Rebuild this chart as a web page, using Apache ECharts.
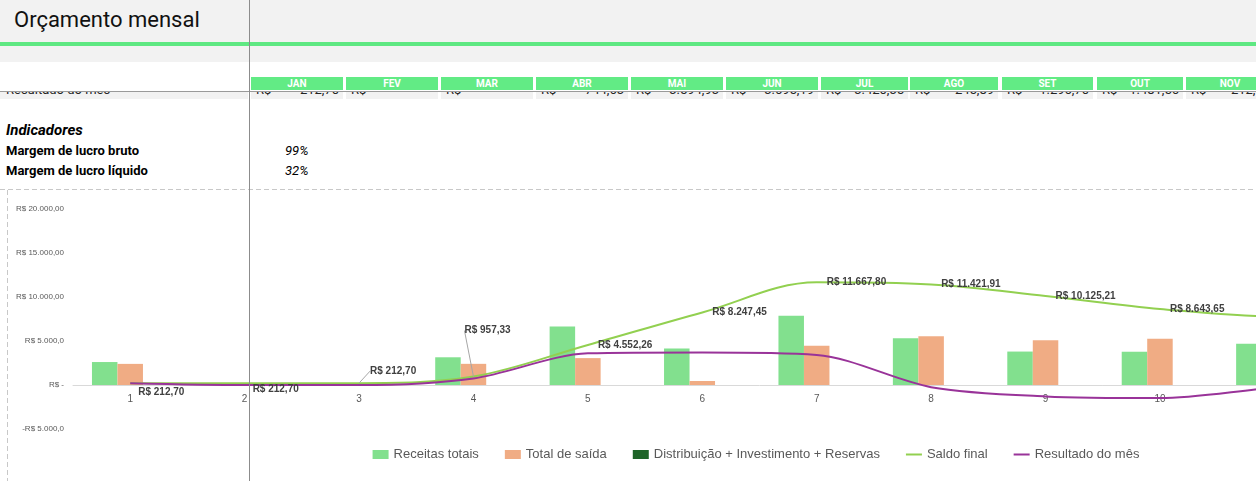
<!DOCTYPE html>
<html><head><meta charset="utf-8">
<script src="https://cdn.jsdelivr.net/npm/echarts@6/dist/echarts.min.js"></script>
<style>
html,body{margin:0;padding:0;width:1256px;height:481px;overflow:hidden;background:#fff;font-family:Roboto,"Liberation Sans",sans-serif;}
.abs{position:absolute;}
.cell{position:absolute;top:77px;height:13px;background:#62eb85;color:#fff;font-weight:bold;font-size:10px;line-height:13px;text-align:center;}
.rowcell{position:absolute;top:0;height:7px;background:#f2f2f2;}
.rt{position:absolute;top:-10px;font-size:13px;line-height:15px;color:#222;white-space:nowrap;}
.lbl{position:absolute;left:6px;color:#000;white-space:nowrap;}
</style></head><body>
<div class="abs" style="left:0;top:0;width:1256px;height:42px;background:#f2f2f2"></div>
<div class="abs" style="left:14px;top:6px;font-size:22px;line-height:28px;color:#111">Orçamento mensal</div>
<div class="abs" style="left:0;top:42px;width:1256px;height:4px;background:#5ee882"></div>
<div class="abs" style="left:0;top:46px;width:1256px;height:16px;background:#f2f2f2"></div>
<div id="months"></div>
<div id="row" class="abs" style="left:0;top:92px;width:1256px;height:7px;overflow:hidden"></div>
<div class="abs" style="left:0;top:91px;width:1256px;height:1px;background:#9a9a9a;z-index:5"></div>
<div class="lbl" style="top:121px;font-size:15px;font-weight:bold;font-style:italic;line-height:18px">Indicadores</div>
<div class="lbl" style="top:143px;font-size:13px;font-weight:bold;line-height:16px">Margem de lucro bruto</div>
<div class="lbl" style="top:163px;font-size:13px;font-weight:bold;line-height:16px">Margem de lucro líquido</div>
<div class="abs" style="left:285px;top:143px;font-size:13px;font-style:italic;line-height:16px">99%</div>
<div class="abs" style="left:285px;top:163px;font-size:13px;font-style:italic;line-height:16px">32%</div>
<svg class="abs" style="left:0;top:0;z-index:1" width="1256" height="481">
  <line x1="0" y1="189.5" x2="1256" y2="189.5" stroke="#c8c8c8" stroke-width="1" stroke-dasharray="5,3"/>
  <line x1="7.5" y1="190" x2="7.5" y2="481" stroke="#c8c8c8" stroke-width="1" stroke-dasharray="5,3"/>
</svg>
<div id="chart" class="abs" style="left:8px;top:190px;width:1496px;height:291px;z-index:2"></div>
<div class="abs" style="left:249px;top:0;width:1px;height:481px;background:#8c8c8c;z-index:6"></div>
<script>
// ---- data ----
const meses = ['JAN','FEV','MAR','ABR','MAI','JUN','JUL','AGO','SET','OUT','NOV','DEZ'];
const resultadoTexto = ['212,70','-','-','744,63','3.594,93','3.695,19','3.420,35','245,89','1.296,70','1.481,56','212,70','-'];
const categorias = ['1','2','3','4','5','6','7','8','9','10','11','12'];
const receitasTotais = [2610, 0, 0, 3150, 6650, 4150, 7880, 5300, 3800, 3780, 4690, 4800];
const totalSaida = [2400, 0, 0, 2405, 3055, 455, 4460, 5546, 5097, 5262, 4990, 4400];
const distribuicao = [0, 0, 0, 0, 0, 0, 0, 0, 0, 0, 0, 0];
const saldoFinal = [212.70, 212.70, 212.70, 957.33, 4552.26, 8247.45, 11667.80, 11421.91, 10125.21, 8643.65, 7800, 8200];
const resultadoMes = [212.70, 0, 0, 744.63, 3594.93, 3695.19, 3420.35, -245.89, -1296.70, -1481.56, -300, 400];
const yTickLabels = ['-R$ 5.000,0', 'R$ -', 'R$ 5.000,0', 'R$ 10.000,00', 'R$ 15.000,00', 'R$ 20.000,00'];

// ---- spreadsheet header cells ----
const cellLeft = [251, 346, 441, 536, 631, 726, 821, 910, 1002, 1097, 1186, 1278];
const cellWidth = [92, 92, 92, 92, 92, 92, 87, 88, 91, 86, 88, 88];
const mDiv = document.getElementById('months');
const rDiv = document.getElementById('row');
let rowHtml = '<div class="rowcell" style="left:0;width:248px"></div><span class="rt" style="left:6px">Resultado do mês</span>';
let mHtml = '';
meses.forEach((m, i) => {
  mHtml += `<div class="cell" style="left:${cellLeft[i]}px;width:${cellWidth[i]}px">${m}</div>`;
  rowHtml += `<div class="rowcell" style="left:${cellLeft[i]}px;width:${cellWidth[i]}px"></div>`;
  rowHtml += `<span class="rt" style="left:${cellLeft[i]+5}px">R$</span>`;
  rowHtml += `<span class="rt" style="left:${cellLeft[i]}px;width:${cellWidth[i]-4}px;text-align:right">${resultadoTexto[i]}</span>`;
});
mDiv.innerHTML = mHtml;
rDiv.innerHTML = rowHtml;

// ---- chart ----
function brl(v) {
  const neg = v < 0; v = Math.abs(v);
  const parts = v.toFixed(2).split('.');
  const int = parts[0].replace(/\B(?=(\d{3})+(?!\d))/g, '.');
  return (neg ? '-' : '') + 'R$ ' + int + ',' + parts[1];
}
const saldoLabelShift = {0: [-2, 9], 1: [-2, 6], 2: [1, -12], 3: [-19, -46]};
const leaderIdx = [2, 3];

const chart = echarts.init(document.getElementById('chart'), null, {renderer: 'canvas'});
const font = 'Liberation Sans';
chart.setOption({
  animation: false,
  grid: {left: 65, right: 58, top: 19, bottom: 52, containLabel: false, outerBoundsMode: 'none'},
  legend: {
    left: 'center', top: 253, itemWidth: 16, itemHeight: 9, itemGap: 26,
    textStyle: {color: '#595959', fontSize: 13, fontFamily: font},
    data: [
      {name: 'Receitas totais', icon: 'rect'},
      {name: 'Total de saída', icon: 'rect'},
      {name: 'Distribuição + Investimento + Reservas', icon: 'rect'},
      {name: 'Saldo final', icon: 'path://M0,0H16V2H0Z'},
      {name: 'Resultado do mês', icon: 'path://M0,0H16V2H0Z'}
    ]
  },
  xAxis: {
    type: 'category', data: categorias,
    axisLine: {onZero: true, lineStyle: {color: '#d9d9d9', width: 1}},
    axisTick: {show: false},
    axisLabel: {color: '#595959', fontSize: 10, fontFamily: font, margin: -35}
  },
  yAxis: {
    type: 'value', min: -5000, max: 20000, interval: 5000,
    axisLine: {show: false}, axisTick: {show: false}, splitLine: {show: false},
    axisLabel: {
      color: '#595959', fontSize: 8, fontFamily: font, margin: 9,
      formatter: (v) => yTickLabels[Math.round((v + 5000) / 5000)]
    }
  },
  series: [
    {name: 'Receitas totais', type: 'bar', data: receitasTotais, barWidth: 25.5, barGap: '0%', itemStyle: {color: '#82e08e'}},
    {name: 'Total de saída', type: 'bar', data: totalSaida, barWidth: 25.5, barGap: '0%', itemStyle: {color: '#f0ac84'}},
    {name: 'Distribuição + Investimento + Reservas', type: 'bar', data: distribuicao, barWidth: 25.5, barGap: '0%', itemStyle: {color: '#1e6428'}},
    {
      name: 'Saldo final', type: 'line', smooth: 0.35, symbol: 'circle', symbolSize: 0, showSymbol: true,
      lineStyle: {color: '#92d050', width: 2}, itemStyle: {color: '#92d050'},
      data: saldoFinal.map((v, i) => leaderIdx.includes(i) ? {value: v, labelLine: {show: true}} : v),
      label: {show: true, position: 'right', distance: 10, formatter: (p) => brl(p.value),
        fontFamily: font, fontWeight: 'bold', fontSize: 10, color: '#404040'},
      labelLine: {show: false, lineStyle: {color: '#a6a6a6', width: 1}},
      labelLayout: (p) => { const s = saldoLabelShift[p.dataIndex]; return s ? {dx: s[0], dy: s[1]} : {}; },
      emphasis: {disabled: true}
    },
    {
      name: 'Resultado do mês', type: 'line', smooth: 0.3, symbol: 'circle', symbolSize: 0, showSymbol: true,
      lineStyle: {color: '#993399', width: 2}, itemStyle: {color: '#993399'},
      data: resultadoMes, emphasis: {disabled: true}
    }
  ]
});
</script>
</body></html>
